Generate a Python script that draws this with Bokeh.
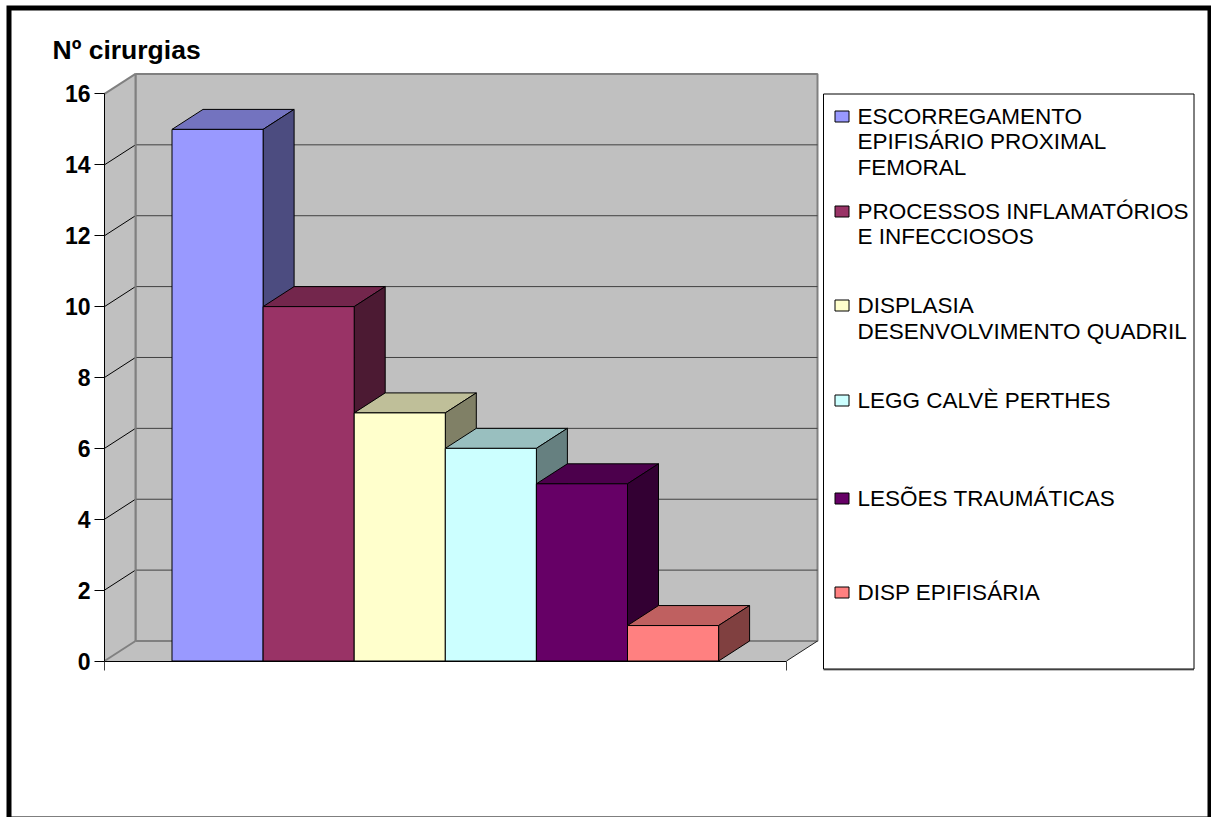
from bokeh.embed import file_html
from bokeh.resources import INLINE
from bokeh.plotting import figure
from bokeh.models import BoxAnnotation, FixedTicker, Label, Range1d
from bokeh.core.properties import value

# Surgery counts per diagnosis
legend_lines = [
    ["ESCORREGAMENTO", "EPIFISÁRIO PROXIMAL", "FEMORAL"],
    ["PROCESSOS INFLAMATÓRIOS", "E INFECCIOSOS"],
    ["DISPLASIA", "DESENVOLVIMENTO QUADRIL"],
    ["LEGG CALVÈ PERTHES"],
    ["LESÕES TRAUMÁTICAS"],
    ["DISP EPIFISÁRIA"],
]
surgeries = [15, 10, 7, 6, 5, 1]
colors = ["#9999FF", "#993366", "#FFFFCC", "#CCFFFF", "#660066", "#FF8080"]
y_ticks = [0, 2, 4, 6, 8, 10, 12, 14, 16]
y_title = "Nº cirurgias"

W, H = 1211, 817
AXIS_LEFT, AXIS_BOTTOM = 104, 660.5
UNIT_X, UNIT_Y = 91.1, 35.44        # pixels per bar / per surgery
BAR0 = 171.5                        # left edge of the first bar, pixels
DEPTH_X, DEPTH_Y = 31 / UNIT_X, 20 / UNIT_Y
FONT = "Liberation Sans"


def xd(px):
    return (px - BAR0) / UNIT_X


def yd(py):
    return (AXIS_BOTTOM - py) / UNIT_Y


def shade(hex_color, k):
    r, g, b = (int(hex_color[i:i + 2], 16) for i in (1, 3, 5))
    return "#%02X%02X%02X" % (round(r * k), round(g * k), round(b * k))


# The frame fills the page; both axes sit at fixed locations inside it
p = figure(
    width=W, height=H, output_backend="svg", toolbar_location=None,
    x_range=Range1d(xd(0), xd(W)),
    y_range=Range1d(yd(H), yd(0)),
    min_border=0, outline_line_color=None,
    background_fill_color="white", border_fill_color="white",
)
p.grid.visible = False

x_left, x_right = xd(AXIS_LEFT), xd(786)

# Value axis
ya = p.yaxis[0]
ya.fixed_location = x_left
ya.ticker = FixedTicker(ticks=y_ticks)
ya.bounds = (0, 16)
ya.major_tick_in = 0
ya.major_tick_out = 10
ya.minor_tick_line_color = None
ya.axis_line_color = "black"
ya.major_tick_line_color = "black"
ya.major_label_standoff = 4
ya.major_label_text_font = FONT
ya.major_label_text_font_style = "bold"
ya.major_label_text_font_size = "23px"
ya.major_label_text_color = "black"

# Category axis: only its two end ticks are visible
xa = p.xaxis[0]
xa.fixed_location = 0
xa.ticker = FixedTicker(ticks=[x_left, x_right])
xa.bounds = (x_left, x_right)
xa.major_tick_in = 0
xa.major_tick_out = 9
xa.minor_tick_line_color = None
xa.axis_line_color = "black"
xa.major_tick_line_color = "#404040"
xa.major_label_text_color = None
xa.major_label_text_font_size = "1px"

# 3D box: back wall, side wall, floor
x_back_l, x_back_r = x_left + DEPTH_X, x_right + DEPTH_X
top = y_ticks[-1]
wall = "#C0C0C0"
edge = "#808080"
p.quad(left=x_back_l, right=x_back_r, bottom=DEPTH_Y, top=top + DEPTH_Y,
       fill_color=wall, line_color=edge, line_width=2)
p.patch([x_left, x_back_l, x_back_l, x_left], [0, DEPTH_Y, top + DEPTH_Y, top],
        fill_color=wall, line_color=None)
p.patch([x_left, x_right, x_back_r, x_back_l], [0, 0, DEPTH_Y, DEPTH_Y],
        fill_color=wall, line_color=None)

# Gridlines run along the back wall and down the side wall
grid_vals = y_ticks[1:-1]
p.segment(x0=[x_back_l] * len(grid_vals), x1=[x_back_r] * len(grid_vals),
          y0=[v + DEPTH_Y for v in grid_vals], y1=[v + DEPTH_Y for v in grid_vals],
          line_color="#404040", line_width=1)
p.segment(x0=[x_left] * len(grid_vals), x1=[x_back_l] * len(grid_vals),
          y0=grid_vals, y1=[v + DEPTH_Y for v in grid_vals],
          line_color="black", line_width=1)

# Wall edges
p.line([x_back_l, x_back_r], [DEPTH_Y, DEPTH_Y], line_color=edge, line_width=2)
p.line([x_back_l, x_back_l], [DEPTH_Y, top + DEPTH_Y], line_color=edge, line_width=2)
p.line([x_left, x_back_l], [0, DEPTH_Y], line_color=edge, line_width=2)
p.line([x_left, x_back_l], [top, top + DEPTH_Y], line_color=edge, line_width=2)
p.line([x_right, x_back_r], [0, DEPTH_Y], line_color="#202020", line_width=1)

# Bars, left to right so each one covers its neighbour's side face
for i, (v, c) in enumerate(zip(surgeries, colors)):
    l, r = float(i), float(i + 1)
    p.patch([l, r, r + DEPTH_X, l + DEPTH_X], [v, v, v + DEPTH_Y, v + DEPTH_Y],
            fill_color=shade(c, 0.75), line_color="black", line_width=1)
    p.patch([r, r + DEPTH_X, r + DEPTH_X, r], [0, DEPTH_Y, v + DEPTH_Y, v],
            fill_color=shade(c, 0.5), line_color="black", line_width=1)
    p.quad(left=l, right=r, bottom=0, top=v, fill_color=c, line_color="black", line_width=1)

# Legend box, with a soft grey shadow along its lower edge
p.add_layout(BoxAnnotation(left=823, right=1193.5, top=668.5, bottom=670,
                           left_units="canvas", right_units="canvas",
                           top_units="canvas", bottom_units="canvas",
                           fill_color="#808080", fill_alpha=1, line_alpha=0))
p.add_layout(BoxAnnotation(left=823, right=1193.5, top=93.5, bottom=668.5,
                           left_units="canvas", right_units="canvas",
                           top_units="canvas", bottom_units="canvas",
                           fill_alpha=0, line_color="black", line_alpha=1, line_width=1,
                           line_join="miter"))

swatch_y = [116, 211, 305, 400, 498, 592]
line_y = [[116, 141, 167], [211, 236], [305, 331], [400], [498], [592]]
p.quad(left=[xd(834.5)] * 6, right=[xd(848.5)] * 6,
       bottom=[yd(y + 5.5) for y in swatch_y], top=[yd(y - 5.5) for y in swatch_y],
       fill_color=colors, line_color="black", line_width=1)
for lines, ys in zip(legend_lines, line_y):
    p.text(x=[xd(857)] * len(lines), y=[yd(y) for y in ys], text=lines,
           text_font=value(FONT), text_font_size="22.5px", text_color="black",
           text_baseline="middle", text_align="left")

# Title of the value axis, above the axis at the left of the plot
p.add_layout(Label(x=52, y=49, x_units="canvas", y_units="canvas", text=y_title,
                   text_font=FONT, text_font_style="bold", text_font_size="26.5px",
                   text_baseline="alphabetic", text_color="black"))

# Heavy black page frame
p.add_layout(BoxAnnotation(left=8.5, right=1209.5, top=7.5, bottom=818.5,
                           left_units="canvas", right_units="canvas",
                           top_units="canvas", bottom_units="canvas",
                           fill_alpha=0, line_color="black", line_alpha=1, line_width=5,
                           line_join="miter"))

open("out.html", "w").write(file_html(p, INLINE))
